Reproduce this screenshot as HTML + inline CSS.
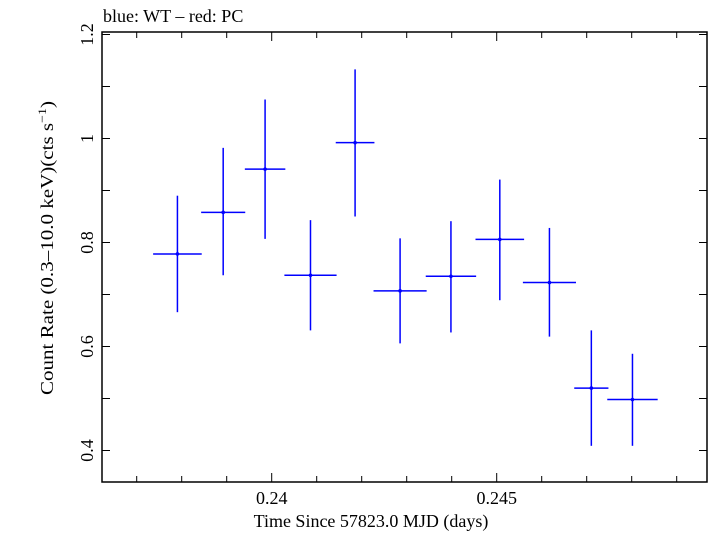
<!DOCTYPE html>
<html><head><meta charset="utf-8"><style>
body{margin:0;background:#fff}
svg text{font-family:"Liberation Serif","DejaVu Serif",serif;fill:#000}
</style></head><body>
<svg width="709" height="532" viewBox="0 0 709 532">
<text x="103" y="22" font-size="18">blue: WT – red: PC</text>
<rect x="102" y="32" width="605" height="450" fill="none" stroke="#000" stroke-width="1.5"/>
<g id="ticks"></g>
<g id="marks"></g>
<text x="371" y="527" font-size="18" text-anchor="middle">Time Since 57823.0 MJD (days)</text>
<text transform="translate(53,248) rotate(-90)" font-size="18" text-anchor="middle" textLength="294" lengthAdjust="spacingAndGlyphs">Count Rate (0.3–10.0 keV)(cts s<tspan dy="-7" font-size="12">−1</tspan><tspan dy="7">)</tspan></text>
</svg>
<script>
const times=[0.237905,0.238922,0.239853,0.240862,0.241853,0.242853,0.243983,0.245069,0.246172,0.247103,0.248017];
const halfWidths=[0.00054,0.00049,0.00045,0.00058,0.00043,0.00059,0.00056,0.00054,0.00059,0.00038,0.00056];
const rates=[0.778,0.858,0.941,0.737,0.992,0.707,0.735,0.806,0.723,0.520,0.498];
const errHigh=[0.890,0.982,1.075,0.843,1.133,0.808,0.841,0.921,0.828,0.631,0.586];
const errLow=[0.666,0.737,0.807,0.631,0.850,0.606,0.627,0.689,0.619,0.409,0.409];
const xTickVals=[0.237,0.238,0.239,0.240,0.241,0.242,0.243,0.244,0.245,0.246,0.247,0.248,0.249];
const xLabels=["0.24","0.245"];
const yTickVals=[0.4,0.5,0.6,0.7,0.8,0.9,1.0,1.1,1.2];
const yLabels=["0.4","0.6","0.8","1","1.2"];
const X=t=>271.7+(t-0.24)*45000;
const Y=v=>450.5-(v-0.4)*520;
const NS="http://www.w3.org/2000/svg";
function mk(tag,attrs,parent){const e=document.createElementNS(NS,tag);for(const k in attrs)e.setAttribute(k,attrs[k]);parent.appendChild(e);return e;}
const tg=document.getElementById('ticks'), mg=document.getElementById('marks'), svg=document.querySelector('svg');
xTickVals.forEach(t=>{
 const major=Math.abs(t*1000-Math.round(t*200)*5)<1e-6;
 const L=major?9:6;const x=X(t);
 let l=mk('line',{x1:x,x2:x,y1:482,y2:482-L,stroke:'#000','stroke-width':1},tg);
 
 
 l=mk('line',{x1:x,x2:x,y1:32,y2:32+L,stroke:'#000','stroke-width':1},tg);
 
 
});
xLabels.forEach(s=>{
 const e=mk('text',{x:X(parseFloat(s)),y:504,'font-size':18,'text-anchor':'middle'},svg);
 e.textContent=s;
 
 
});
yTickVals.forEach(v=>{
 const y=Y(v);
 let l=mk('line',{x1:102,x2:110,y1:y,y2:y,stroke:'#000','stroke-width':1},tg);
 
 
 l=mk('line',{x1:707,x2:699,y1:y,y2:y,stroke:'#000','stroke-width':1},tg);
 
 
});
yLabels.forEach(s=>{
 const y=Y(parseFloat(s));
 const e=mk('text',{transform:`translate(93,${y}) rotate(-90)`,'font-size':18,'text-anchor':'middle'},svg);
 e.textContent=s;
 
 
});
times.forEach((t,i)=>{
 const g=mk('g',{},mg);
 
 
 mk('line',{x1:X(t-halfWidths[i]),x2:X(t+halfWidths[i]),y1:Y(rates[i]),y2:Y(rates[i]),stroke:'#0000ff','stroke-width':1.5},g);
 mk('line',{x1:X(t),x2:X(t),y1:Y(errLow[i]),y2:Y(errHigh[i]),stroke:'#0000ff','stroke-width':1.5},g);
 mk('circle',{cx:X(t),cy:Y(rates[i]),r:1.8,fill:'#0000ff'},g);
});
</script>
</body></html>
